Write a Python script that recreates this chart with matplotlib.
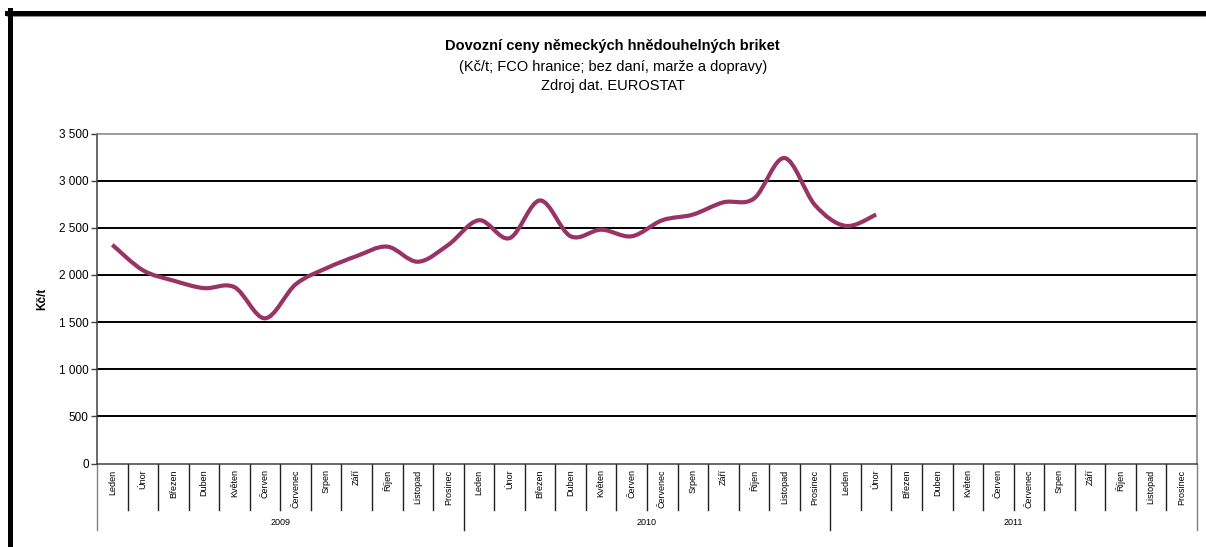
import numpy as np
import matplotlib.pyplot as plt
from matplotlib.path import Path
from matplotlib.patches import PathPatch
from matplotlib.lines import Line2D
from matplotlib.ticker import FuncFormatter

plt.rcParams["font.family"] = ["Liberation Sans", "DejaVu Sans"]

months = ["Leden", "Únor", "Březen", "Duben", "Květen", "Červen", "Červenec",
          "Srpen", "Září", "Říjen", "Listopad", "Prosinec"]
years = ["2009", "2010", "2011"]
# Kč/t, leden 2009 .. únor 2011
prices = [2320, 2050, 1940, 1860, 1870, 1540, 1900, 2070, 2200, 2300, 2140, 2320,
          2580, 2390, 2790, 2410, 2480, 2410, 2580, 2640, 2770, 2810, 3240, 2740,
          2520, 2640]

n_cat = len(months) * len(years)
line_color = "#993366"


def smooth_path(xs, ys):
    # Excel-like smoothed line: cubic bezier through every point
    pts = np.column_stack([xs, ys]).astype(float)
    padded = np.vstack([pts[0], pts, pts[-1]])
    verts = [pts[0]]
    codes = [Path.MOVETO]
    for i in range(len(pts) - 1):
        p0, p1, p2, p3 = padded[i], padded[i + 1], padded[i + 2], padded[i + 3]
        verts += [p1 + (p2 - p0) / 6, p2 - (p3 - p1) / 6, p2]
        codes += [Path.CURVE4] * 3
    return Path(verts, codes)


fig = plt.figure(figsize=(12.06, 5.47), dpi=100)
ax = fig.add_axes([97 / 1206, 1 - 463.5 / 547, 1100 / 1206, 330 / 547])

ax.add_patch(PathPatch(smooth_path(np.arange(len(prices)), prices), fill=False,
                       edgecolor=line_color, lw=3, capstyle="butt", zorder=4))

ax.set_xlim(-0.5, n_cat - 0.5)
ax.set_ylim(0, 3500)
ax.set_yticks(np.arange(0, 3501, 500))
ax.yaxis.set_major_formatter(FuncFormatter(lambda v, p: f"{v:,.0f}".replace(",", " ")))
ax.tick_params(axis="y", direction="out", length=4, width=1, color="#404040",
               labelsize=8.5, pad=2)
ax.set_xticks([])
for v in range(500, 3001, 500):
    ax.axhline(v, color="black", lw=1.4, zorder=2)

ax.spines["left"].set_color("#404040")
ax.spines["bottom"].set_color("#404040")
ax.spines["top"].set_color("#808080")
ax.spines["right"].set_color("#808080")
for s in ax.spines.values():
    s.set_linewidth(1.1)

ax.set_ylabel("Kč/t", fontsize=8.5, fontweight="bold")
ax.yaxis.set_label_coords((48 - 97) / 1100, 0.5)

# multi-level category axis
tr = ax.get_xaxis_transform()
for k in range(n_cat + 1):
    edge = k - 0.5
    bottom = -0.2 if k % 12 == 0 else -0.141
    color = "#808080" if k in (0, n_cat) else "#202020"
    ax.add_line(Line2D([edge, edge], [0, bottom], transform=tr, color=color,
                       lw=1, clip_on=False))
for k in range(n_cat):
    ax.text(k, -0.018, months[k % 12], transform=tr, rotation=90, ha="center",
            va="top", fontsize=6.5)
for j, yr in enumerate(years):
    ax.text(12 * j + 5.5, -0.18, yr, transform=tr, ha="center", va="center",
            fontsize=6.5)

# titles
fig.text(0.508, 1 - 46 / 547, "Dovozní ceny německých hnědouhelných briket",
         ha="center", va="center", fontsize=10.5, fontweight="bold")
fig.text(0.508, 1 - 67 / 547, "(Kč/t; FCO hranice; bez daní, marže a dopravy)",
         ha="center", va="center", fontsize=10.5)
fig.text(0.508, 1 - 86 / 547, "Zdroj dat. EUROSTAT",
         ha="center", va="center", fontsize=10.5)

# outer chart frame (cropped)
fig.add_artist(Line2D([7 / 1206, 1], [1 - 12.5 / 547] * 2, transform=fig.transFigure,
                      color="black", lw=3.6))
fig.add_artist(Line2D([7 / 1206, 1], [1 - 15.5 / 547] * 2, transform=fig.transFigure,
                      color="#909090", lw=0.8))
fig.add_artist(Line2D([9.5 / 1206] * 2, [1 - 10 / 547, 0], transform=fig.transFigure,
                      color="black", lw=3.6))

fig.savefig("out.png", dpi=100)
